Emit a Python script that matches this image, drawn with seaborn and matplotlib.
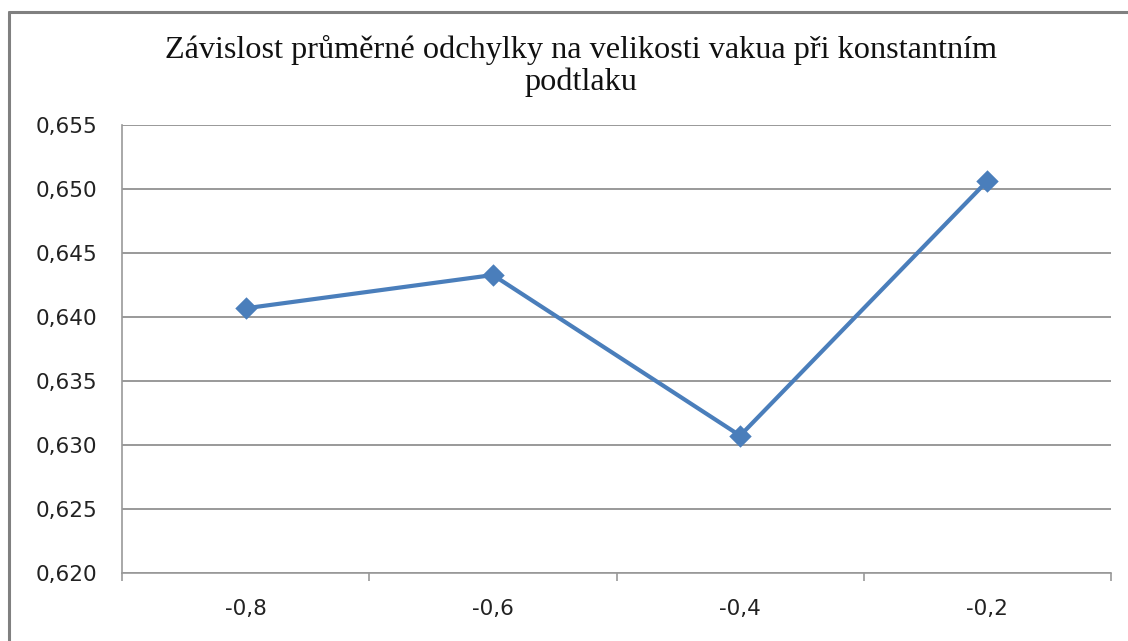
import matplotlib
matplotlib.use("Agg")
import matplotlib.pyplot as plt
from matplotlib.lines import Line2D
from matplotlib.ticker import FixedLocator, FuncFormatter
import seaborn as sns
import pandas as pd

# Vacuum levels (categories) and mean deviation measured at each level
vacuum = ["-0,8", "-0,6", "-0,4", "-0,2"]
mean_deviation = [0.64068, 0.64328, 0.63073, 0.65063]

y_ticks = [0.620, 0.625, 0.630, 0.635, 0.640, 0.645, 0.650, 0.655]

title = "Závislost průměrné odchylky na velikosti vakua při konstantním\npodtlaku"

df = pd.DataFrame({"vakuum": vacuum, "odchylka": mean_deviation})

sns.set_theme(style="white")
plt.rcParams["font.family"] = ["DejaVu Sans"]

W, H = 1128, 641
fig = plt.figure(figsize=(W / 100, H / 100), dpi=100)
fig.patch.set_facecolor("white")
ax = fig.add_axes([122 / W, 1 - 573 / H, (1111 - 122) / W, (573 - 125) / H])

line_color = "#4A7EBB"
sns.pointplot(data=df, x="vakuum", y="odchylka", ax=ax, color=line_color,
              markers="D", markersize=9, linewidth=3.0, errorbar=None)

ax.set_xlim(-0.5, len(vacuum) - 0.5)
ax.set_ylim(y_ticks[0], y_ticks[-1])
ax.yaxis.set_major_locator(FixedLocator(y_ticks))
ax.yaxis.set_major_formatter(FuncFormatter(lambda v, p: f"{v:.3f}".replace(".", ",")))

# category boundaries carry the tick marks, labels sit at category centres
ax.set_xticks(range(len(vacuum)))
ax.set_xticklabels(vacuum)
ax.set_xticks([i - 0.5 for i in range(len(vacuum) + 1)], minor=True)
ax.tick_params(axis="x", which="major", length=0, pad=19, labelsize=15.5, colors="#222222")
ax.tick_params(axis="x", which="minor", length=6, width=1.2, color="#999999", direction="out")
ax.tick_params(axis="y", which="major", length=8, width=1.4, color="#999999",
               direction="out", pad=10, labelsize=15.5, labelcolor="#222222")
ax.xaxis.set_tick_params(bottom=True, which="minor")

ax.grid(axis="y", color="#999999", linewidth=1.4)
ax.grid(axis="x", visible=False)
ax.set_axisbelow(True)
for side in ["top", "right"]:
    ax.spines[side].set_visible(False)
for side in ["left", "bottom"]:
    ax.spines[side].set_color("#999999")
    ax.spines[side].set_linewidth(1.2)
ax.set_xlabel("")
ax.set_ylabel("")
ax.set_facecolor("white")

fig.text(581 / W, 1 - 66 / H, title, ha="center", va="center",
         fontsize=23.2, family="Liberation Serif", color="#111111", linespacing=1.15)

# outer chart frame
bx, by = 8.5 / W, 1 - 11.5 / H
fig.add_artist(Line2D([bx, bx], [0, by], transform=fig.transFigure, color="#808080", linewidth=2.2))
fig.add_artist(Line2D([bx, 1], [by, by], transform=fig.transFigure, color="#808080", linewidth=2.2))

fig.savefig("out.png", dpi=100)
